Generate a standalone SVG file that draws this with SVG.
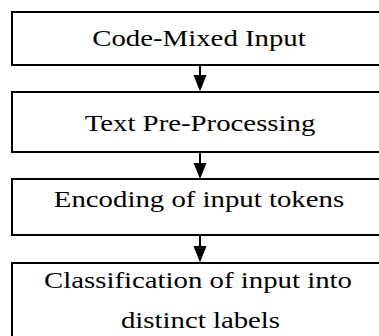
<svg xmlns="http://www.w3.org/2000/svg" width="379" height="336" viewBox="0 0 379 336">
<defs>
<style>
.box{fill:#fff;stroke:#000;stroke-width:2}
.lbl{font-family:"Liberation Serif","Times New Roman",serif;font-size:24px;fill:#000;text-anchor:middle}
.edge{stroke:#000;stroke-width:2;fill:none}
.head{fill:#000;stroke:none}
</style>
</defs>
<rect width="379" height="336" fill="#fff"/>
<g id="connectors">
<line class="edge" x1="200" y1="65" x2="200" y2="76"/>
<polygon class="head" points="193.5,75 206.5,75 200,91.5"/>
<line class="edge" x1="200" y1="152" x2="200" y2="164"/>
<polygon class="head" points="193.5,163 206.5,163 200,179"/>
<line class="edge" x1="200" y1="235" x2="200" y2="247"/>
<polygon class="head" points="193.5,246 206.5,246 200,262.5"/>
</g>
<g id="node1">
<rect class="box" x="12" y="12" width="377" height="53"/>
<text class="lbl" transform="translate(199,45.7) scale(1.2,1)">Code-Mixed Input</text>
</g>
<g id="node2">
<rect class="box" x="12" y="92" width="377" height="60"/>
<text class="lbl" transform="translate(200,130.7) scale(1.2,1)">Text Pre-Processing</text>
</g>
<g id="node3">
<rect class="box" x="12" y="179" width="377" height="56"/>
<text class="lbl" transform="translate(199,206.7) scale(1.2,1)">Encoding of input tokens</text>
</g>
<g id="node4">
<rect class="box" x="12" y="263" width="377" height="90"/>
<text class="lbl" transform="translate(198,288.3) scale(1.2,1)">Classification of input into</text>
<text class="lbl" transform="translate(200.5,328.3) scale(1.2,1)">distinct labels</text>
</g>
</svg>
